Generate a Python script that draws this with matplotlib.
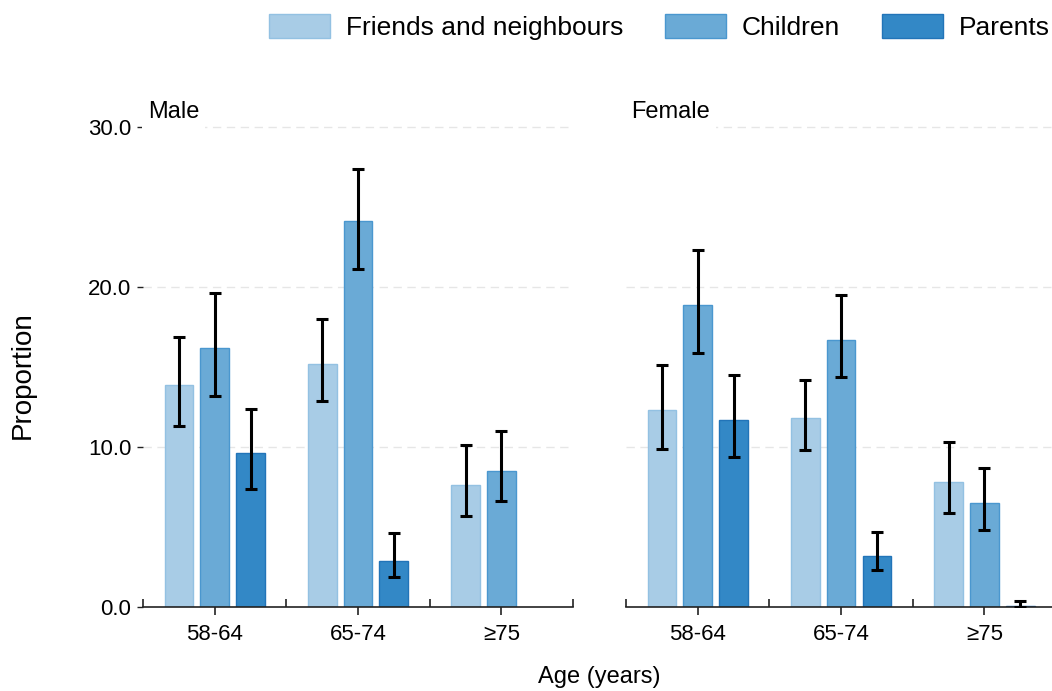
import numpy as np
import matplotlib
matplotlib.use("Agg")
import matplotlib.pyplot as plt
from matplotlib.patches import Patch
from matplotlib.ticker import FixedLocator

plt.rcParams["font.family"] = ["Liberation Sans", "DejaVu Sans"]

AGE_GROUPS = ["58-64", "65-74", "\u226575"]
SERIES = ["Friends and neighbours", "Children", "Parents"]
FILL = ["#a8cce6", "#6aaad6", "#3388c6"]
EDGE = ["#93c1e2", "#4a97cf", "#2274b8"]

# proportion (%) with 95% CI, one row per series, one column per age group
male_val = [[13.9, 15.2, 7.6], [16.2, 24.1, 8.5], [9.6, 2.9, np.nan]]
male_lo = [[11.3, 12.9, 5.7], [13.2, 21.1, 6.6], [7.4, 1.9, np.nan]]
male_hi = [[16.9, 18.0, 10.1], [19.6, 27.4, 11.0], [12.4, 4.6, np.nan]]

female_val = [[12.3, 11.8, 7.8], [18.9, 16.7, 6.5], [11.7, 3.2, 0.05]]
female_lo = [[9.9, 9.8, 5.9], [15.9, 14.4, 4.8], [9.4, 2.3, 0.0]]
female_hi = [[15.1, 14.2, 10.3], [22.3, 19.5, 8.7], [14.5, 4.7, 0.38]]

W, H, DPI = 1052, 691, 100
fig = plt.figure(figsize=(W / DPI, H / DPI), dpi=DPI)


def draw_panel(ax, title, vals, los, his, show_y):
    x = np.arange(len(AGE_GROUPS))
    for i in range(len(SERIES)):
        v = np.array(vals[i], dtype=float)
        lo = np.array(los[i], dtype=float)
        hi = np.array(his[i], dtype=float)
        pos = x + (i - 1) * 0.25
        ax.bar(pos, v, width=0.2, color=FILL[i], edgecolor=EDGE[i],
               linewidth=1.0, zorder=2)
        ax.errorbar(pos, v, yerr=[v - lo, hi - v], fmt="none", ecolor="black",
                    elinewidth=2.2, capsize=4.6, capthick=2.2, zorder=3)

    ax.set_xlim(-0.5, 2.5)
    ax.set_ylim(0, 30)
    ax.set_yticks([0, 10, 20, 30])
    for yv in [10, 20, 30]:
        ax.axhline(yv, color="#e6e6e6", linewidth=1.0, linestyle=(0, (6, 4)),
                   zorder=0, clip_on=False)

    for side in ["top", "right", "left"]:
        ax.spines[side].set_visible(False)
    ax.spines["bottom"].set_color("#222222")
    ax.spines["bottom"].set_linewidth(1.2)

    ax.set_xticks(x)
    ax.set_xticklabels(AGE_GROUPS, fontsize=16)
    ax.xaxis.set_minor_locator(FixedLocator([-0.5, 0.5, 1.5, 2.5]))
    ax.tick_params(axis="x", which="major", direction="out", length=6,
                   width=1.2, color="#222222", pad=6)
    ax.tick_params(axis="x", which="minor", direction="in", length=6,
                   width=1.2, color="#222222")

    if show_y:
        ax.set_yticklabels([f"{t:.1f}" for t in [0, 10, 20, 30]], fontsize=16)
        ax.tick_params(axis="y", direction="out", length=4.5, width=1.0,
                       color="#222222", pad=4)
    else:
        ax.tick_params(axis="y", left=False, labelleft=False)

    ax.text(0.012, 1.018, title, transform=ax.transAxes, fontsize=17,
            ha="left", va="baseline", zorder=5,
            bbox=dict(boxstyle="square,pad=0.25", facecolor="white",
                      edgecolor="none"))


ax_m = fig.add_axes([143 / W, 84 / H, 430 / W, 480 / H])
ax_f = fig.add_axes([626 / W, 84 / H, 430 / W, 480 / H])
draw_panel(ax_m, "Male", male_val, male_lo, male_hi, True)
draw_panel(ax_f, "Female", female_val, female_lo, female_hi, False)

fig.text(23 / W, 1 - 375 / H, "Proportion", rotation=90, fontsize=20,
         ha="center", va="center")
fig.text(599 / W, 1 - 677 / H, "Age (years)", fontsize=17,
         ha="center", va="center")

handles = [Patch(facecolor=FILL[i], edgecolor=EDGE[i], linewidth=1.0,
                 label=SERIES[i]) for i in range(len(SERIES))]
fig.legend(handles=handles, loc="upper right",
           bbox_to_anchor=(1050 / W, 1 - 14 / H), ncol=3, frameon=False,
           fontsize=19, handlelength=2.3, handleheight=1.0,
           handletextpad=0.6, columnspacing=1.6, borderpad=0,
           borderaxespad=0)

fig.savefig("out.png", dpi=DPI)
